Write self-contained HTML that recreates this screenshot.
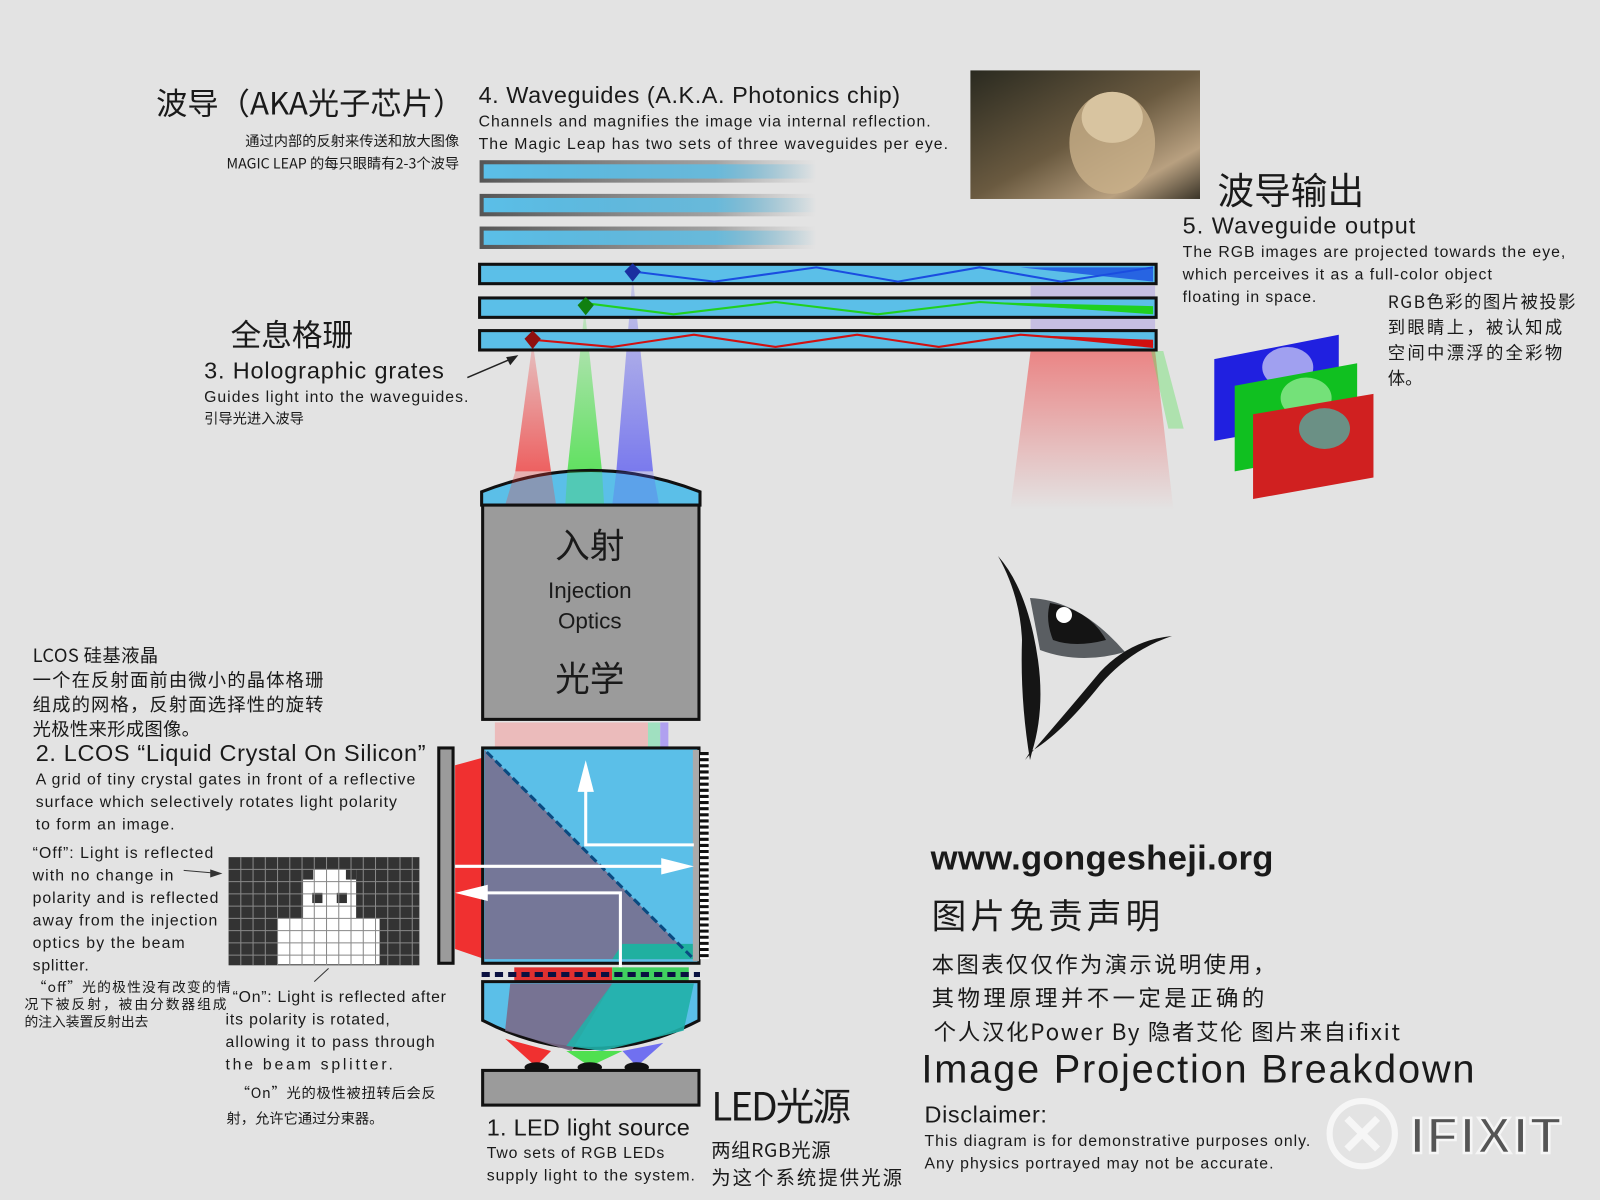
<!DOCTYPE html>
<html><head><meta charset="utf-8"><style>
html,body{margin:0;padding:0;background:#e3e3e3;}
svg{display:block}
text{font-family:"Liberation Sans","Noto Sans CJK SC",sans-serif;fill:#1a1a1a}
.cn{font-family:"Noto Sans CJK SC","WenQuanYi Zen Hei",sans-serif}
</style></head><body>
<svg width="1600" height="1200" viewBox="0 0 1568 1176" xmlns="http://www.w3.org/2000/svg">
<defs>
<linearGradient id="fadeR" x1="0" x2="1"><stop offset="0" stop-color="#5bbfe8"/><stop offset="0.7" stop-color="#5bbfe8" stop-opacity="0.8"/><stop offset="1" stop-color="#5bbfe8" stop-opacity="0"/></linearGradient>
<linearGradient id="fadeB" x1="0" x2="1"><stop offset="0" stop-color="#555"/><stop offset="0.7" stop-color="#777" stop-opacity="0.6"/><stop offset="1" stop-color="#999" stop-opacity="0"/></linearGradient>
<linearGradient id="beamR" x1="0" y1="0" x2="0" y2="1"><stop offset="0" stop-color="#f04040" stop-opacity="0.2"/><stop offset="1" stop-color="#f04040" stop-opacity="0.8"/></linearGradient>
<linearGradient id="beamG" x1="0" y1="0" x2="0" y2="1"><stop offset="0" stop-color="#40e040" stop-opacity="0.2"/><stop offset="1" stop-color="#40e040" stop-opacity="0.8"/></linearGradient>
<linearGradient id="beamB" x1="0" y1="0" x2="0" y2="1"><stop offset="0" stop-color="#6060f0" stop-opacity="0.2"/><stop offset="1" stop-color="#6060f0" stop-opacity="0.8"/></linearGradient>
<linearGradient id="outR" x1="0" y1="0" x2="0" y2="1"><stop offset="0" stop-color="#ee5050" stop-opacity="0.8"/><stop offset="1" stop-color="#ee5050" stop-opacity="0"/></linearGradient>
<linearGradient id="cat" x1="0" y1="0" x2="1" y2="1"><stop offset="0" stop-color="#2a2a20"/><stop offset="0.5" stop-color="#6a5a40"/><stop offset="0.8" stop-color="#b8a080"/><stop offset="1" stop-color="#3a3428"/></linearGradient>
</defs>

<rect x="951" y="69" width="225" height="126" fill="url(#cat)"/>
<ellipse cx="1090" cy="140" rx="42" ry="50" fill="#c9b08a" opacity="0.8"/>
<ellipse cx="1090" cy="115" rx="30" ry="25" fill="#d8c4a0"/>

<g>
<rect x="470" y="157" width="330" height="22" fill="url(#fadeB)"/><rect x="474" y="161" width="326" height="14" fill="url(#fadeR)"/>
<rect x="470" y="190" width="330" height="22" fill="url(#fadeB)"/><rect x="474" y="194" width="326" height="14" fill="url(#fadeR)"/>
<rect x="470" y="222" width="330" height="22" fill="url(#fadeB)"/><rect x="474" y="226" width="326" height="14" fill="url(#fadeR)"/>
</g>

<polygon points="1010,344 1132,344 1150,500 990,500" fill="url(#outR)" opacity="0.8"/>
<polygon points="1010,280 1132,280 1132,344 1010,344" fill="#9a8ae0" opacity="0.4"/>
<polygon points="1128,344 1140,344 1160,420 1145,420" fill="#60e060" opacity="0.4"/>

<polygon points="522,335 505,462 540,462" fill="url(#beamR)"/>
<polygon points="573,303 556,462 590,462" fill="url(#beamG)"/>
<polygon points="620,270 604,462 640,462" fill="url(#beamB)"/>

<g stroke="#111" stroke-width="3" fill="#5bbfe8">
<rect x="470" y="259" width="663" height="19"/>
<rect x="470" y="292" width="663" height="19"/>
<rect x="470" y="324" width="663" height="19"/>
</g>
<polyline points="620,266 700,276 800,262 880,276 960,262 1040,276 1130,262" fill="none" stroke="#1a4de0" stroke-width="2"/>
<polygon points="1000,262 1130,262 1130,276" fill="#1a4de0" opacity="0.8"/>
<polyline points="573,297 660,308 760,296 860,308 960,296 1130,306" fill="none" stroke="#20d020" stroke-width="2"/>
<polygon points="960,296 1130,300 1130,308" fill="#20d020"/>
<polyline points="522,333 600,340 680,328 760,340 840,328 920,340 1000,328 1130,338" fill="none" stroke="#d01010" stroke-width="2"/>
<polygon points="1000,328 1130,333 1130,341" fill="#d01010"/>
<polygon points="620,258 628,266 620,276 612,266" fill="#1a2fa0"/>
<polygon points="574,291 582,299 574,309 566,299" fill="#108010"/>
<polygon points="522,324 530,332 522,342 514,332" fill="#901010"/>

<path d="M472,495 L472,482 Q579,440 686,482 L686,495 Z" fill="#5bbfe8" stroke="#111" stroke-width="3"/>
<polygon points="505,462 540,462 545,495 495,495" fill="#f04040" opacity="0.3"/>
<polygon points="556,462 590,462 592,495 554,495" fill="#40e040" opacity="0.3"/>
<polygon points="604,462 640,462 646,495 600,495" fill="#6060f0" opacity="0.3"/>
<rect x="473" y="495" width="212" height="210" fill="#9b9b9b" stroke="#111" stroke-width="3"/>
<text x="578" y="547" font-size="34" text-anchor="middle" class="cn">入射</text>
<text x="578" y="586" font-size="22" text-anchor="middle">Injection</text>
<text x="578" y="616" font-size="22" text-anchor="middle">Optics</text>
<text x="578" y="677" font-size="34" text-anchor="middle" class="cn">光学</text>

<rect x="485" y="708" width="150" height="24" fill="#f0a0a0" opacity="0.6"/>
<rect x="635" y="708" width="12" height="24" fill="#a0e0c0"/>
<rect x="647" y="708" width="8" height="24" fill="#b0a0f0"/>

<rect x="430" y="733" width="14" height="211" fill="#9b9b9b" stroke="#111" stroke-width="3"/>
<polygon points="446,750 475,742 475,940 446,930" fill="#f03030"/>

<rect x="473" y="733" width="212" height="211" fill="#5bbfe8" stroke="#111" stroke-width="3"/>
<polygon points="475,735 680,940 475,940" fill="#7a6a8a" opacity="0.85"/>
<polygon points="610,925 680,925 680,940 600,940" fill="#20b0a0"/>
<rect x="679" y="735" width="6" height="207" fill="#aaa"/>
<line x1="477" y1="737" x2="680" y2="940" stroke="#0a4a80" stroke-width="3" stroke-dasharray="8,4"/>
<rect x="686" y="737" width="9" height="203" fill="#fff"/>
<line x1="690" y1="737" x2="690" y2="940" stroke="#111" stroke-width="9" stroke-dasharray="3,3"/>
<g stroke="#fff" stroke-width="3" fill="none">
<polyline points="680,828 574,828 574,770"/>
<line x1="446" y1="849" x2="655" y2="849"/>
<polyline points="608,1000 608,875 470,875"/>
</g>
<polygon points="574,745 566,776 582,776" fill="#fff"/>
<polygon points="680,849 648,841 648,857" fill="#fff"/>
<polygon points="446,875 478,867 478,883" fill="#fff"/>

<rect x="504" y="948" width="96" height="14" fill="#e03030"/>
<rect x="600" y="948" width="75" height="14" fill="#40d060"/>
<line x1="472" y1="955" x2="686" y2="955" stroke="#0a1040" stroke-width="5" stroke-dasharray="8,5"/>

<path d="M473,962 L685,962 L685,1000 Q579,1055 473,1000 Z" fill="#5bbfe8" stroke="#111" stroke-width="3"/>
<polygon points="500,964 600,964 560,1030 495,1010" fill="#7a6a8a" opacity="0.9"/>
<polygon points="600,964 680,964 670,1010 590,1030 555,1025" fill="#20b0a8" opacity="0.9"/>
<polygon points="495,1018 540,1030 525,1045" fill="#f03030"/>
<polygon points="555,1030 610,1030 578,1045" fill="#50e050"/>
<polygon points="610,1030 650,1022 624,1045" fill="#7070f0"/>
<ellipse cx="526" cy="1046" rx="12" ry="5" fill="#111"/>
<ellipse cx="578" cy="1046" rx="12" ry="5" fill="#111"/>
<ellipse cx="624" cy="1046" rx="12" ry="5" fill="#111"/>
<rect x="473" y="1049" width="212" height="34" fill="#9b9b9b" stroke="#111" stroke-width="3"/>

<rect x="224" y="840" width="187" height="106" fill="#333"/>
<g fill="#fff">
<rect x="297" y="852" width="52" height="70"/>
<rect x="272" y="900" width="100" height="45"/>
</g>
<g fill="#333"><rect x="306" y="875" width="10" height="10"/><rect x="330" y="875" width="10" height="10"/><rect x="297" y="852" width="10" height="10"/><rect x="339" y="852" width="10" height="10"/></g>
<g stroke="#888" stroke-width="1">
<path d="M236,840V946M248,840V946M260,840V946M272,840V946M284,840V946M296,840V946M308,840V946M320,840V946M332,840V946M344,840V946M356,840V946M368,840V946M380,840V946M392,840V946M404,840V946"/>
<path d="M224,852H411M224,864H411M224,876H411M224,888H411M224,900H411M224,912H411M224,924H411M224,936H411"/>
</g>
<line x1="180" y1="853" x2="215" y2="856" stroke="#333" stroke-width="1"/>
<polygon points="218,856 206,852 206,860" fill="#333"/>
<line x1="322" y1="949" x2="308" y2="962" stroke="#333"/>

<line x1="458" y1="370" x2="505" y2="350" stroke="#222" stroke-width="1.5"/>
<polygon points="508,348 496,350 500,358" fill="#222"/>

<polygon points="1190,352 1312,328 1312,410 1190,432" fill="#2020e0"/>
<ellipse cx="1262" cy="360" rx="25" ry="20" fill="#a0a0f0"/>
<polygon points="1210,378 1330,356 1330,440 1210,462" fill="#10c020"/>
<ellipse cx="1280" cy="390" rx="25" ry="20" fill="#a0f0a0" opacity="0.7"/>
<polygon points="1228,406 1346,386 1346,468 1228,489" fill="#d02020"/>
<ellipse cx="1298" cy="420" rx="25" ry="20" fill="#40c0b0" opacity="0.7"/>

<!-- eye (scaled 0.98 from original coords) -->
<g transform="scale(0.98)">
<path d="M1030,598 Q1080,600 1125,652 Q1080,665 1040,650 Z" fill="#5a5e62"/>
<path d="M1050,603 Q1090,610 1106,640 Q1075,648 1053,640 Q1045,620 1050,603 Z" fill="#141414"/>
<circle cx="1064" cy="615" r="8" fill="#fff"/>
<path d="M998,556 Q1028,590 1038,660 Q1045,710 1032,752 L1030,760 Q1020,700 1022,640 Q1020,595 998,556 Z" fill="#151515"/>
<path d="M1025,760 Q1060,720 1100,672 Q1130,640 1172,636 Q1130,650 1100,685 Q1060,735 1030,752 Z" fill="#151515"/>
</g>

<text x="153" y="112" font-size="30" class="cn" textLength="302" lengthAdjust="spacingAndGlyphs">波导（AKA光子芯片）</text>
<text x="450" y="143" font-size="14" text-anchor="end" class="cn">通过内部的反射来传送和放大图像</text>
<text x="450" y="165" font-size="14" text-anchor="end" class="cn">MAGIC LEAP 的每只眼睛有2-3个波导</text>
<text x="469" y="101" font-size="23" textLength="413">4. Waveguides (A.K.A. Photonics chip)</text>
<text x="469" y="124" font-size="15.5" textLength="443">Channels and magnifies the image via internal reflection.</text>
<text x="469" y="146" font-size="15.5" textLength="460">The Magic Leap has two sets of three waveguides per eye.</text>

<text x="1193" y="200" font-size="36" class="cn">波导输出</text>
<text x="1159" y="229" font-size="23" textLength="228">5. Waveguide output</text>
<text x="1159" y="252" font-size="15.5" textLength="375">The RGB images are projected towards the eye,</text>
<text x="1159" y="274" font-size="15.5" textLength="303">which perceives it as a full-color object</text>
<text x="1159" y="296" font-size="15.5" textLength="131">floating in space.</text>
<text x="1360" y="302" font-size="17" class="cn" textLength="184">RGB色彩的图片被投影</text>
<text x="1360" y="327" font-size="17" class="cn" textLength="171">到眼睛上，被认知成</text>
<text x="1360" y="352" font-size="17" class="cn" textLength="171">空间中漂浮的全彩物</text>
<text x="1360" y="377" font-size="17" class="cn">体。</text>

<text x="226" y="339" font-size="30" class="cn">全息格珊</text>
<text x="200" y="371" font-size="23" textLength="235">3. Holographic grates</text>
<text x="200" y="394" font-size="15.5" textLength="259">Guides light into the waveguides.</text>
<text x="200" y="415" font-size="14" class="cn">引导光进入波导</text>

<text x="32" y="649" font-size="18" class="cn" textLength="123">LCOS 硅基液晶</text>
<text x="32" y="673" font-size="18" class="cn" textLength="285">一个在反射面前由微小的晶体格珊</text>
<text x="32" y="697" font-size="18" class="cn" textLength="285">组成的网格，反射面选择性的旋转</text>
<text x="32" y="721" font-size="18" class="cn" textLength="164">光极性来形成图像。</text>
<text x="35" y="746" font-size="23" textLength="382">2. LCOS “Liquid Crystal On Silicon”</text>
<text x="35" y="769" font-size="15.5" textLength="372">A grid of tiny crystal gates in front of a reflective</text>
<text x="35" y="791" font-size="15.5" textLength="354">surface which selectively rotates light polarity</text>
<text x="35" y="813" font-size="15.5" textLength="136">to form an image.</text>
<g font-size="15.5">
<text x="32" y="841" textLength="177">“Off”: Light is reflected</text>
<text x="32" y="863" textLength="138">with no change in</text>
<text x="32" y="885" textLength="182">polarity and is reflected</text>
<text x="32" y="907" textLength="181">away from the injection</text>
<text x="32" y="929" textLength="149">optics by the beam</text>
<text x="32" y="951" textLength="55">splitter.</text>
<text x="228" y="982" textLength="209">“On”: Light is reflected after</text>
<text x="221" y="1004" textLength="161">its polarity is rotated,</text>
<text x="221" y="1026" textLength="205">allowing it to pass through</text>
<text x="221" y="1048" textLength="164">the beam splitter.</text>
</g>
<text x="32" y="972" font-size="13.5" class="cn" textLength="194">“off”光的极性没有改变的情</text>
<text x="24" y="989" font-size="13.5" class="cn" textLength="198">况下被反射，被由分数器组成</text>
<text x="24" y="1006" font-size="13.5" class="cn">的注入装置反射出去</text>
<text x="231" y="1076" font-size="14" class="cn" textLength="196">“On”光的极性被扭转后会反</text>
<text x="222" y="1101" font-size="14" class="cn">射，允许它通过分束器。</text>

<text x="477" y="1113" font-size="23" textLength="199">1. LED light source</text>
<text x="477" y="1135" font-size="15.5" textLength="174">Two sets of RGB LEDs</text>
<text x="477" y="1157" font-size="15.5" textLength="204">supply light to the system.</text>
<text x="697" y="1098" font-size="38" class="cn" letter-spacing="-2">LED光源</text>
<text x="697" y="1134" font-size="19" class="cn" textLength="117">两组RGB光源</text>
<text x="697" y="1161" font-size="19" class="cn" textLength="187">为这个系统提供光源</text>

<text x="912" y="852" font-size="34" font-weight="bold" fill="#111" textLength="336">www.gongesheji.org</text>
<text x="913" y="910" font-size="34" class="cn" textLength="224">图片免责声明</text>
<text x="913" y="953" font-size="22" class="cn" textLength="337">本图表仅仅作为演示说明使用，</text>
<text x="913" y="986" font-size="22" class="cn" textLength="326">其物理原理并不一定是正确的</text>
<text x="915" y="1019" font-size="22" class="cn" textLength="457">个人汉化Power By 隐者艾伦 图片来自ifixit</text>
<text x="903" y="1061" font-size="39" textLength="542">Image Projection Breakdown</text>
<text x="906" y="1100" font-size="23" textLength="120">Disclaimer:</text>
<text x="906" y="1123" font-size="15.5" textLength="378">This diagram is for demonstrative purposes only.</text>
<text x="906" y="1145" font-size="15.5" textLength="342">Any physics portrayed may not be accurate.</text>

<g opacity="0.7">
<circle cx="1335" cy="1111" r="32" fill="none" stroke="#fff" stroke-width="6"/>
<path d="M1320,1096 L1350,1126 M1350,1096 L1320,1126" stroke="#fff" stroke-width="7"/>
<text x="1382" y="1130" font-size="50" font-weight="bold" fill="none" stroke="#fff" stroke-width="2.5" textLength="148">IFIXIT</text>
</g>
</svg>
</body></html>
